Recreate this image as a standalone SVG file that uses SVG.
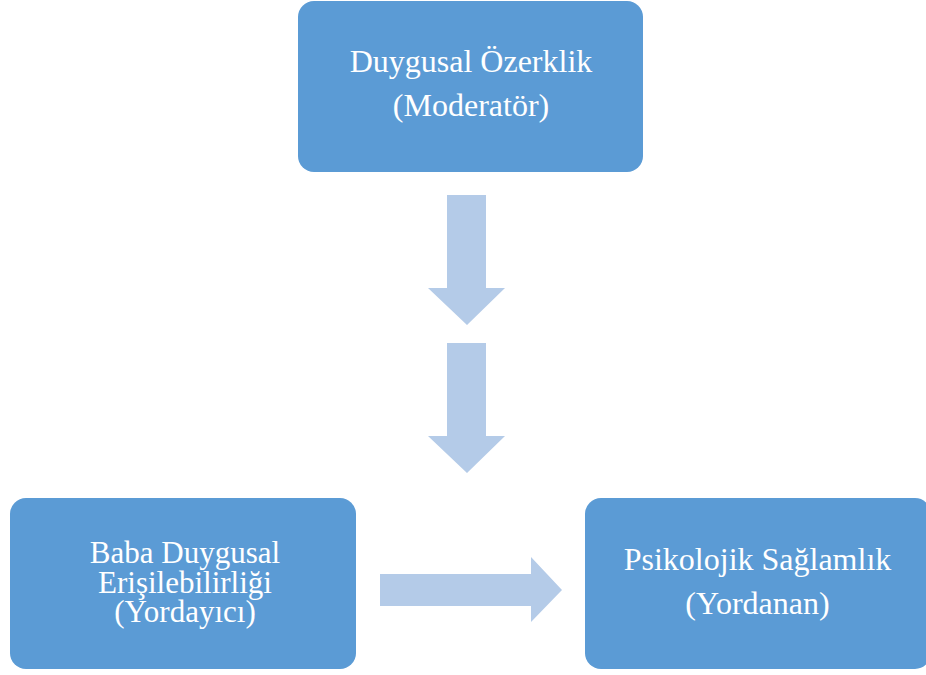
<svg xmlns="http://www.w3.org/2000/svg" width="926" height="675" viewBox="0 0 926 675">
<style>
.box{fill:#5B9BD5;}
.arr{fill:#B4CBE8;}
.t{fill:#FFFFFF;text-anchor:middle;}
</style>
<rect width="926" height="675" fill="#FFFFFF"/>
<g id="connectors">
<polygon class="arr" points="447,195 486,195 486,288 505,288 467,325 428,288 447,288"/>
<polygon class="arr" points="447,343 486,343 486,436 505,436 467,473 428,436 447,436"/>
<polygon class="arr" points="380,574 531,574 531,557 562,590 531,622 531,606 380,606"/>
</g>
<g font-family="Liberation Serif, Times New Roman, Times, serif" font-size="32">
<g id="node-moderator">
<rect class="box" x="298" y="1" width="345" height="171" rx="16"/>
<text class="t" x="471" y="72">Duygusal Özerklik</text>
<text class="t" x="471" y="116">(Moderatör)</text>
</g>
<g id="node-yordayici" font-size="31">
<rect class="box" x="10" y="498" width="346" height="171" rx="16"/>
<text class="t" x="185" y="563">Baba Duygusal</text>
<text class="t" x="185" y="593">Erişilebilirliği</text>
<text class="t" x="185" y="622">(Yordayıcı)</text>
</g>
<g id="node-yordanan">
<rect class="box" x="585" y="498" width="346" height="171" rx="16"/>
<text class="t" x="757.5" y="570">Psikolojik Sağlamlık</text>
<text class="t" x="757.5" y="614">(Yordanan)</text>
</g>
</g>
</svg>
